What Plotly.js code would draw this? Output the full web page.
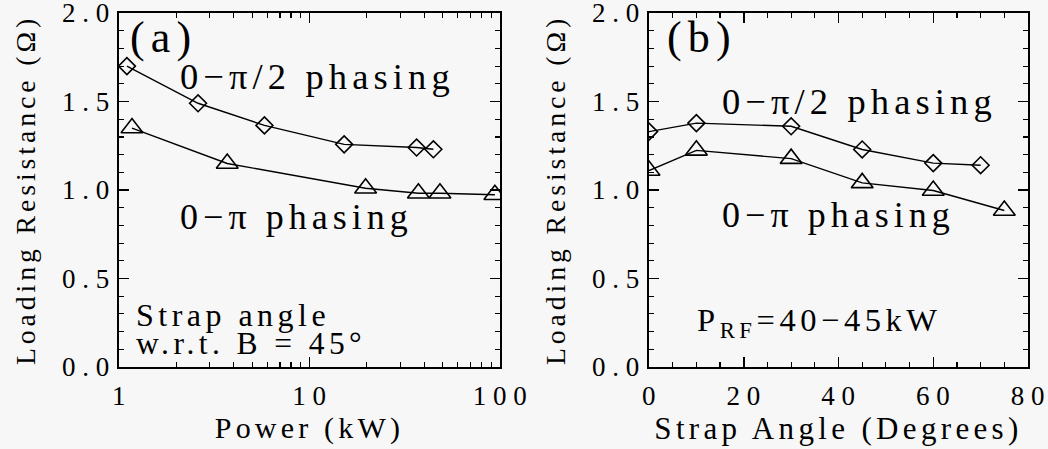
<!DOCTYPE html>
<html>
<head>
<meta charset="utf-8">
<script src="https://cdn.plot.ly/plotly-3.0.1.min.js"></script>
<style>
html,body{margin:0;padding:0;background:#f7f7f7;}
#chart{width:1048px;height:449px;}
svg text{letter-spacing:0.14em;}
#chart g.xtick text, #chart g.x2tick text, #chart g.ytick text, #chart g.y2tick text{letter-spacing:0.25em;}
</style>
</head>
<body>
<div id="chart"></div>
<script>
// Panel (a): loading resistance vs power
const powerHalfPi = [1.1, 2.6, 5.8, 15.2, 36.5, 44.7];
const resHalfPi_a = [1.70, 1.49, 1.365, 1.258, 1.24, 1.23];
const powerPi = [1.17, 3.7, 19.7, 37.3, 48.4, 94];
const resPi_a = [1.35, 1.15, 1.01, 0.982, 0.982, 0.973];

// Panel (b): loading resistance vs strap angle
const angleHalfPi = [0, 10, 30, 45, 60, 70];
const resHalfPi_b = [1.33, 1.378, 1.36, 1.229, 1.152, 1.14];
const anglePi = [0, 10, 30, 45, 60, 75];
const resPi_b = [1.11, 1.224, 1.177, 1.04, 0.997, 0.884];

const yTicks = [0, 0.5, 1.0, 1.5, 2.0];
const yTickText = ['0.0', '0.5', '1.0', '1.5', '2.0'];
const xTicksA = [1, 10, 100];
const xTickTextA = ['1', '10', '100'];
const xMinorA = [2,3,4,5,6,7,8,9,20,30,40,50,60,70,80,90];
const xTicksB = [0, 20, 40, 60, 80];

const FONT = '"Liberation Serif", "Times New Roman", serif';
const lineStyle = {color: 'black', width: 1.4};

function series(x, y, xa, ya, symbol, size) {
  return {
    x: x, y: y, xaxis: xa, yaxis: ya, type: 'scatter', mode: 'lines+markers',
    line: lineStyle, cliponaxis: true,
    marker: {symbol: symbol, size: size, color: 'black', line: {color: 'black', width: 1.6}},
    showlegend: false, hoverinfo: 'x+y'
  };
}

const data = [
  series(powerHalfPi, resHalfPi_a, 'x', 'y', 'diamond-open', 13),
  series(powerPi, resPi_a, 'x', 'y', 'triangle-up-open', 19),
  series(angleHalfPi, resHalfPi_b, 'x2', 'y2', 'diamond-open', 13),
  series(anglePi, resPi_b, 'x2', 'y2', 'triangle-up-open', 19)
];

const axisCommon = {
  showline: true, linecolor: 'black', linewidth: 1.6, mirror: 'ticks',
  ticks: 'inside', ticklen: 10, tickwidth: 1.5, tickcolor: 'black',
  showgrid: false, zeroline: false, ticklabeloverflow: 'allow',
  tickfont: {family: FONT, size: 27, color: 'black'}
};

const yAxis = (anchor) => Object.assign({}, axisCommon, {
  anchor: anchor, domain: [0, 1], range: [0, 2], tickvals: yTicks, ticktext: yTickText,
  minor: {ticks: 'inside', ticklen: 5, tickwidth: 1.2, tickcolor: 'black', dtick: 0.1, showgrid: false},
  ticklabelstandoff: -4,
  title: {text: 'Loading Resistance (Ω)', font: {family: FONT, size: 27.8, color: 'black'}, standoff: 27}
});

const W = 1048, H = 449;
const mL = 119, mR = 20, mT = 13, mB = 82;
const pw = W - mL - mR;

const annFont = (s) => ({family: FONT, size: s, color: 'black'});
const ann = (xr, yr, x, y, text, size) => ({
  xref: xr, yref: yr, x: x, y: y, xanchor: 'left', yanchor: 'middle', align: 'left',
  showarrow: false, text: text, font: annFont(size), borderpad: 0
});

const layout = {
  width: W, height: H,
  margin: {l: mL, r: mR, t: mT, b: mB, pad: 0},
  paper_bgcolor: '#f7f7f7', plot_bgcolor: '#f7f7f7',
  font: {family: FONT, color: 'black'},
  xaxis: Object.assign({}, axisCommon, {
    type: 'log', domain: [0, 381 / pw], range: [0, 2], anchor: 'y',
    tickvals: xTicksA, ticktext: xTickTextA, ticklabelshift: 3,
    minor: {ticks: 'inside', ticklen: 5, tickwidth: 1.2, tickcolor: 'black', tickvals: xMinorA, showgrid: false},
    ticklabelstandoff: 4,
    title: {text: 'Power (kW)', font: annFont(30), standoff: 2}
  }),
  yaxis: yAxis('x'),
  xaxis2: Object.assign({}, axisCommon, {
    domain: [(649 - mL) / pw, (1028 - mL) / pw], range: [0, 80], anchor: 'y2',
    tickvals: xTicksB, ticklabelshift: 3,
    minor: {ticks: 'inside', ticklen: 5, tickwidth: 1.2, tickcolor: 'black', dtick: 5, showgrid: false},
    ticklabelstandoff: 4,
    title: {text: 'Strap Angle (Degrees)', font: annFont(31), standoff: 2}
  }),
  yaxis2: yAxis('x2'),
  annotations: [
    ann('x domain', 'y domain', 0.027, 0.93, '(a)', 44),
    ann('x domain', 'y domain', 0.157, 0.82, '0−π/2 phasing', 36.5),
    ann('x domain', 'y domain', 0.157, 0.424, '0−π phasing', 36),
    ann('x domain', 'y domain', 0.042, 0.148, 'Strap angle', 32),
    ann('x domain', 'y domain', 0.042, 0.066, 'w.r.t. B = 45°', 31.5),
    ann('x2 domain', 'y2 domain', 0.044, 0.93, '(b)', 44),
    ann('x2 domain', 'y2 domain', 0.189, 0.75, '0−π/2 phasing', 36.5),
    ann('x2 domain', 'y2 domain', 0.189, 0.43, '0−π phasing', 36),
    ann('x2 domain', 'y2 domain', 0.123, 0.125, 'P<sub>RF</sub>=40−45kW', 32.5)
  ]
};

Plotly.newPlot('chart', data, layout, {displayModeBar: false, staticPlot: true});
</script>
</body>
</html>
